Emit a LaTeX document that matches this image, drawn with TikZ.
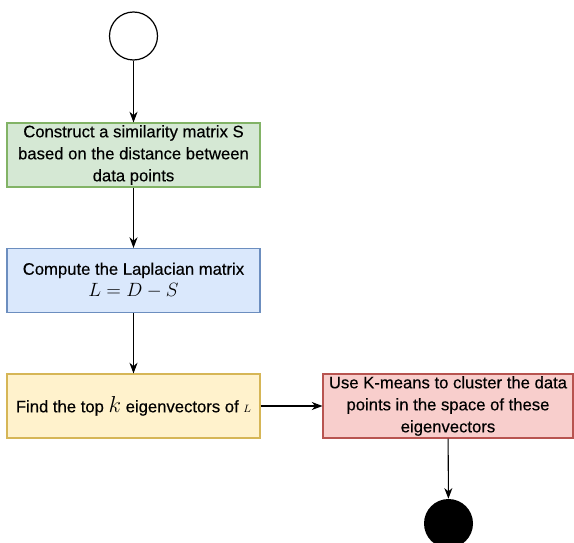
\documentclass[tikz,border=0pt]{standalone}
\usepackage{fontspec}
\setmainfont{Liberation Sans}
\newfontfamily\boxfont{Liberation Sans}[FakeBold=0.3]
\usetikzlibrary{arrows.meta}
\definecolor{gfill}{HTML}{D5E8D4}\definecolor{gline}{HTML}{82B366}
\definecolor{bfill}{HTML}{DAE8FC}\definecolor{bline}{HTML}{6C8EBF}
\definecolor{yfill}{HTML}{FFF2CC}\definecolor{yline}{HTML}{D6B656}
\definecolor{rfill}{HTML}{F8CECC}\definecolor{rline}{HTML}{B85450}
\begin{document}
\begin{tikzpicture}[x=0.75pt,y=-0.75pt,
  stepbox/.style={draw, line width=0.8pt, minimum width=253*0.75pt, minimum height=64*0.75pt,
    inner sep=0pt, align=center, font=\boxfont\fontsize{12.5}{16.5}\selectfont},
  flow/.style={-{Stealth[length=8pt,width=6pt,inset=2.5pt]}, line width=0.8pt}]
\useasboundingbox (0,0) rectangle (574,542);
\node[circle, draw, line width=0.9pt, minimum size=48*0.75pt, inner sep=0pt] (start) at (133.5,36) {};
\node[stepbox, fill=gfill, draw=gline] (sim) at (133.5,155)
  {Construct a similarity matrix S\\based on the distance between\\data points};
\node[stepbox, fill=bfill, draw=bline] (lap) at (133.5,280.5)
  {Compute the Laplacian matrix\\\mbox{\fontsize{15}{15}\selectfont$L=D-S$}};
\node[stepbox, fill=yfill, draw=yline] (eig) at (133.5,406)
  {Find the top \mbox{\fontsize{16}{16}\selectfont$k$} eigenvectors of \mbox{\fontsize{8.5}{8.5}\selectfont$L$}};
\node[stepbox, fill=rfill, draw=rline, minimum width=250*0.75pt] (km) at (448,406)
  {Use K-means to cluster the data\\points in the space of these\\eigenvectors};
\node[circle, fill=black, minimum size=49*0.75pt, inner sep=0pt] (stop) at (448.5,523.5) {};
\draw[flow] (start) -- (sim);
\draw[flow] (sim) -- (lap);
\draw[flow] (lap) -- (eig);
\draw[flow] (eig) -- (km);
\draw[flow] (km) -- (stop);
\end{tikzpicture}
\end{document}
